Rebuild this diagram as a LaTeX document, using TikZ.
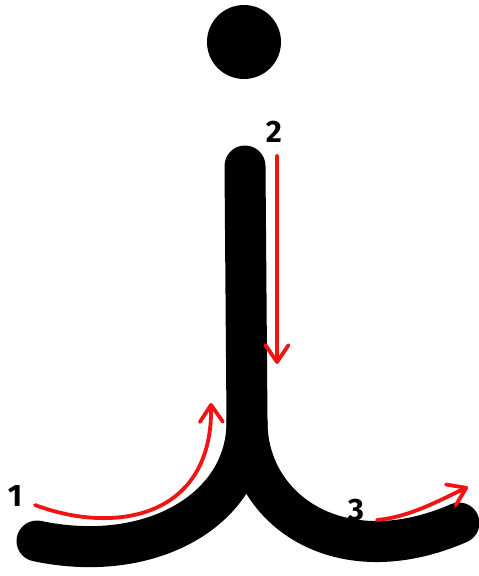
\documentclass[tikz,border=0pt]{standalone}
\usepackage{fontspec}
\setsansfont{Fira Sans}
\usetikzlibrary{positioning,arrows.meta,calc}
\definecolor{InkBlack}{RGB}{0,0,0}
\definecolor{GuideRed}{RGB}{240,20,20}
\tikzset{
  letter/.style={line width=41pt,draw=InkBlack,line cap=round,line join=round},
  guide/.style={-{Straight Barb[length=17pt,width=23pt,line cap=round,line join=round]},
    line width=3.8pt,draw=GuideRed,line cap=round},
  numlabel/.style={font=\sffamily\bfseries\fontsize{31}{33}\selectfont,text=InkBlack,inner sep=0pt}
}
\begin{document}
\begin{tikzpicture}[x=1pt,y=-1pt]
  \useasboundingbox[fill=white] (0,0) rectangle (479,576);
  % dot and stroke of the letter
  \node[circle,fill=InkBlack,minimum size=74pt,inner sep=0pt] (dot) at (244,42) {};
  \coordinate (top) at (245,166);
  \coordinate (fork) at (247,422);
  \coordinate (leftend) at (37,541);
  \coordinate (rightend) at (459,523);
  \draw[letter] (top) -- (fork) .. controls (247,510) and (150,565) .. (leftend);
  \draw[letter] (fork) .. controls (247,510) and (340,575) .. (rightend);

  % stroke order
  \node[numlabel] (one) at (15,496) {1};
  \node[numlabel] (two) at (274,132) {2};
  \node[numlabel] (three) at (356,510) {3};
  \coordinate (a1) at (35,505);
  \coordinate (b1) at (211,403);
  \coordinate (a2) at (277,156);
  \coordinate (b2) at (277,364);
  \coordinate (a3) at (377,520);
  \coordinate (b3) at (468,487);
  \draw[guide] (a1) .. controls (115,535) and (213,518) .. (b1);
  \draw[guide] (a2) -- (b2);
  \draw[guide] (a3) .. controls (410,517) and (440,500) .. (b3);
\end{tikzpicture}
\end{document}
